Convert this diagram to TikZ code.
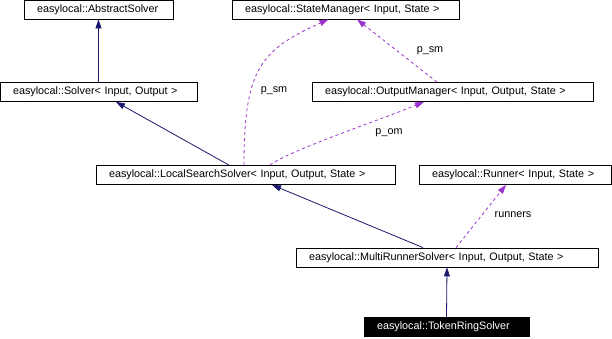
\documentclass[tikz,border=0pt]{standalone}
\usepackage{fontspec}
\setmainfont{Liberation Sans}
\usetikzlibrary{arrows.meta}
\definecolor{inheritblue}{RGB}{25,25,112}
\definecolor{usepurple}{RGB}{154,50,205}
\tikzset{
        x=1pt, y=-1pt, % one unit per pixel, y grows downwards
        >={Triangle[length=9pt,width=6pt]}, % filled heads
        font=\fontsize{10.8}{13}\selectfont,
        cls/.style={draw, line width=0.8pt, inner xsep=13pt, inner ysep=0pt,
                minimum height=19pt, align=left, text width=#1}, % #1 = box width - 26pt
        inherit/.style={->, draw=inheritblue, line width=0.8pt},
        uses/.style={->, draw=usepurple, line width=0.8pt, dash pattern=on 3pt off 3pt},
        lbl/.style={inner sep=1pt, text=black}
        }

\begin{document}
\begin{tikzpicture}
        \useasboundingbox (0,0) rectangle (612,338);
        \node[cls=123pt](abs) at (98.5,9.5){easylocal::AbstractSolver};
        \node[cls=201pt](sm) at (345.5,9.5){easylocal::StateManager< Input, State >};
        \node[cls=171pt](slv) at (98.5,92){easylocal::Solver< Input, Output >};
        \node[cls=255pt](om) at (452.5,92){easylocal::OutputManager< Input, Output, State >};
        \node[cls=273pt](lss) at (245.5,175){easylocal::LocalSearchSolver< Input, Output, State >};
        \node[cls=166pt](run) at (515,175){easylocal::Runner< Input, State >};
        \node[cls=276pt](mrs) at (447,257.5){easylocal::MultiRunnerSolver< Input, Output, State >};
        \node[cls=139pt, fill=black, text=white](trs) at (446.5,327){easylocal::TokenRingSolver};
        % base classes
        \draw[inherit] (slv.north) -- (abs.south);
        \draw[inherit] ([xshift=-16.5]lss.north) -- ([xshift=17.5]slv.south);
        \draw[inherit] ([xshift=-24]mrs.north) -- ([xshift=26.5]lss.south);
        \draw[inherit] (trs.north) -- (mrs.south);
        % members
        \draw[uses] ([xshift=-1.5]lss.north) .. controls (244,70) and (260,50) .. ([xshift=-17]sm.south);
        \node[lbl](psm1) at (274,91){p\_sm};
        \draw[uses] ([xshift=24.5]lss.north) .. controls (290,150) and (380,120) .. ([xshift=-28.5]om.south);
        \node[lbl](pom) at (389,133){p\_om};
        \draw[uses] ([xshift=-15.5]om.north) -- ([xshift=11.5]sm.south);
        \node[lbl](psm2) at (430,51){p\_sm};
        \draw[uses] ([xshift=9]mrs.north) -- ([xshift=-9]run.south);
        \node[lbl](rnr) at (513,215){runners};
\end{tikzpicture}
\end{document}
